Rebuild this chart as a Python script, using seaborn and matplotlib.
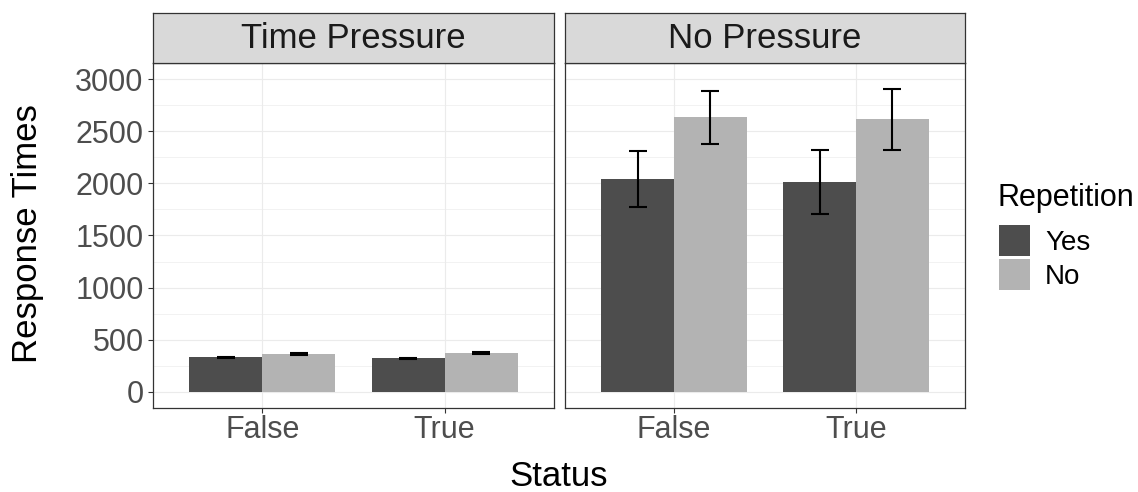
import numpy as np
import pandas as pd
import matplotlib
matplotlib.use("Agg")
import matplotlib.pyplot as plt
import seaborn as sns
from matplotlib.patches import Rectangle
from matplotlib.ticker import FixedLocator

# ---------------- data ----------------
panels = ["Time Pressure", "No Pressure"]
status = ["False", "True"]
repetition = ["Yes", "No"]

time_yes_mean = [331, 321]
time_no_mean = [363, 373]
nop_yes_mean = [2041, 2012]
nop_no_mean = [2634, 2614]

time_yes_err = [8, 8]
time_no_err = [10, 10]
nop_yes_err = [268, 306]
nop_no_err = [256, 293]

y_ticks = [0, 500, 1000, 1500, 2000, 2500, 3000]

rows = []
for pan, ym, nm, ye, ne in [
    (panels[0], time_yes_mean, time_no_mean, time_yes_err, time_no_err),
    (panels[1], nop_yes_mean, nop_no_mean, nop_yes_err, nop_no_err),
]:
    for i, s in enumerate(status):
        rows.append(dict(Panel=pan, Status=s, Repetition="Yes", Time=ym[i], Err=ye[i]))
        rows.append(dict(Panel=pan, Status=s, Repetition="No", Time=nm[i], Err=ne[i]))
df = pd.DataFrame(rows)

palette = {"Yes": "#4D4D4D", "No": "#B3B3B3"}

# ---------------- style ----------------
sns.set_theme(style="white")
plt.rcParams["font.family"] = ["Liberation Sans", "DejaVu Sans"]

W, H = 1138, 492
fig = plt.figure(figsize=(W / 100, H / 100), dpi=100)

def fx(px):
    return px / W

def fy(py):
    return 1 - py / H

panel_x = [(153, 554), (565, 965)]
top_px, bot_px = 63, 408
strip_top = 13

border = "#333333"
grid_c = "#EBEBEB"

axes = []
for k, (pan, (x0, x1)) in enumerate(zip(panels, panel_x)):
    ax = fig.add_axes([fx(x0), fy(bot_px), fx(x1 - x0), (bot_px - top_px) / H])
    axes.append(ax)
    sub = df[df.Panel == pan]
    sns.barplot(data=sub, x="Status", y="Time", hue="Repetition",
                order=status, hue_order=repetition, palette=palette,
                errorbar=None, width=0.8, linewidth=0, saturation=1,
                ax=ax, legend=(k == 1))
    for cont, rep in zip(ax.containers, repetition):
        ss = sub[sub.Repetition == rep].set_index("Status").loc[status]
        xs = [p.get_x() + p.get_width() / 2 for p in cont]
        ax.errorbar(xs, ss["Time"].values, yerr=ss["Err"].values, fmt="none",
                    ecolor="black", elinewidth=1.5, capsize=6.5, capthick=1.5,
                    zorder=5)
    ax.set_xlim(-0.6, 1.6)
    ax.set_ylim(-154, 3154)
    ax.yaxis.set_major_locator(FixedLocator(y_ticks))
    ax.yaxis.set_minor_locator(FixedLocator([t + 250 for t in y_ticks[:-1]]))
    ax.set_axisbelow(True)
    ax.grid(True, which="major", color=grid_c, linewidth=0.85)
    ax.grid(True, which="minor", axis="y", color=grid_c, linewidth=0.45)
    ax.set_facecolor("white")
    for sp in ax.spines.values():
        sp.set_color(border)
        sp.set_linewidth(0.9)
        sp.set_visible(True)
    ax.set_xlabel("")
    ax.set_ylabel("")
    ax.tick_params(axis="both", which="major", length=3.3, width=0.8, color=border,
                   labelsize=22, labelcolor="#4D4D4D", bottom=True, left=True)
    ax.tick_params(axis="y", which="major", pad=3.5)
    ax.tick_params(axis="x", which="major", pad=2.0)
    ax.tick_params(axis="y", which="minor", length=0)
    if k == 1:
        ax.tick_params(axis="y", labelleft=False, left=False)

    # strip
    sax = fig.add_axes([fx(x0), fy(top_px), fx(x1 - x0), (top_px - strip_top) / H])
    sax.set_facecolor("#D9D9D9")
    sax.set_xticks([])
    sax.set_yticks([])
    for sp in sax.spines.values():
        sp.set_color(border)
        sp.set_linewidth(0.9)
    sax.text(0.5, 0.5, pan, ha="center", va="center", fontsize=25,
             color="#1A1A1A", transform=sax.transAxes)

# legend (drawn from the seaborn hue handles' colours)
handles, labels = axes[1].get_legend_handles_labels()
axes[1].get_legend().remove()
fig.text(fx(998), fy(206), "Repetition", ha="left", va="baseline",
         fontsize=22, color="black")
key_tops = [225, 259]
for h, lab, kt in zip(handles, labels, key_tops):
    fig.patches.append(Rectangle((fx(999), fy(kt + 31)), fx(31), 31 / H,
                                 transform=fig.transFigure,
                                 facecolor=h.get_facecolor(), edgecolor="none"))
    fig.text(fx(1045), fy(kt + 15.5), lab, ha="left", va="center_baseline",
             fontsize=20, color="black")

# axis titles
fig.text(fx(37), fy(234), "Response Times", rotation=90,
         rotation_mode="anchor", ha="center", va="baseline", fontsize=25,
         color="black")
fig.text(fx(559), fy(486), "Status", ha="center", va="baseline", fontsize=25,
         color="black")

fig.savefig("out.png", dpi=100)
